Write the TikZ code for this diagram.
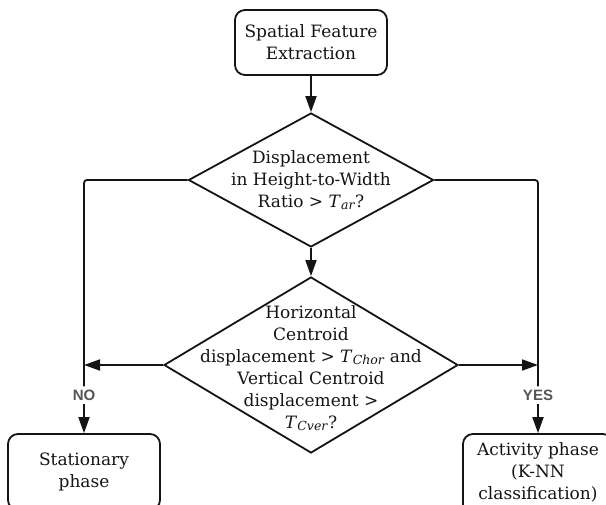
\documentclass[tikz,border=0pt]{standalone}
\usepackage{fontspec}
\setmainfont{DejaVu Serif}
\newfontfamily\labelfont{Liberation Sans}
\usetikzlibrary{shapes.geometric,arrows.meta}
\definecolor{ink}{HTML}{141414}
\definecolor{lblgray}{HTML}{555555}
\newcommand\Tsub[1]{\textit{T}\kern0.01em\raisebox{-0.28ex}{\fontsize{12.5}{12.5}\selectfont\textit{#1}}}
\begin{document}
\begin{tikzpicture}[x=1pt,y=-1pt,
  every node/.style={text=ink, font=\fontsize{17}{22}\selectfont},
  procbox/.style={draw=ink, line width=1.8pt, rounded corners=10pt, align=center, inner sep=0pt},
  decision/.style={draw=ink, line width=1.8pt, diamond, inner sep=0pt},
  dtext/.style={align=center, inner sep=0pt},
  conn/.style={draw=ink, line width=1.8pt},
  arr/.style={conn, -{Triangle[length=16pt,width=11pt]}},
  yn/.style={font=\labelfont\bfseries\fontsize{15}{15}\selectfont, text=lblgray, fill=white, inner sep=3pt}
]
\useasboundingbox (0,0) rectangle (606,505);
\begin{scope}
\clip (0,0) rectangle (606,505);
\node[procbox, minimum width=152pt, minimum height=65pt] (start) at (311,42.5) {Spatial Feature\\Extraction};
\node[decision, minimum width=245pt, minimum height=134pt] (d1) at (311,180) {};
\node[dtext] (d1t) at (311,180) {Displacement\\in Height-to-Width\\Ratio > \Tsub{ar}?};
\node[decision, minimum width=294pt, minimum height=176pt] (d2) at (311,365) {};
\node[dtext] (d2t) at (311,368) {Horizontal\\Centroid\\displacement > \Tsub{Chor} and\\Vertical Centroid\\displacement >\\\Tsub{Cver}?};
\node[procbox, minimum width=152pt, minimum height=76pt] (stat) at (84,472) {Stationary\\phase};
\node[procbox, minimum width=150pt, minimum height=84pt] (act) at (538,476) {};
\node[dtext] (actt) at (538,472.5) {Activity phase\\(K-NN\\classification)};
\node[yn] (no) at (84,395) {NO};
\node[yn] (yes) at (538,395) {YES};

\draw[arr] (start) -- (d1);
\draw[arr] (d1) -- (d2);
\draw[conn, rounded corners=3pt] (d1.west) -| (no.north);
\draw[conn, rounded corners=3pt] (d1.east) -| (yes.north);
\draw[arr] (no.south) -- (stat.north);
\draw[arr] (yes.south) -- (act.north);
\draw[arr] (d2.west) -- (d2.west -| no.center);
\draw[arr] (d2.east) -- (d2.east -| yes.center);
\end{scope}
\end{tikzpicture}
\end{document}
